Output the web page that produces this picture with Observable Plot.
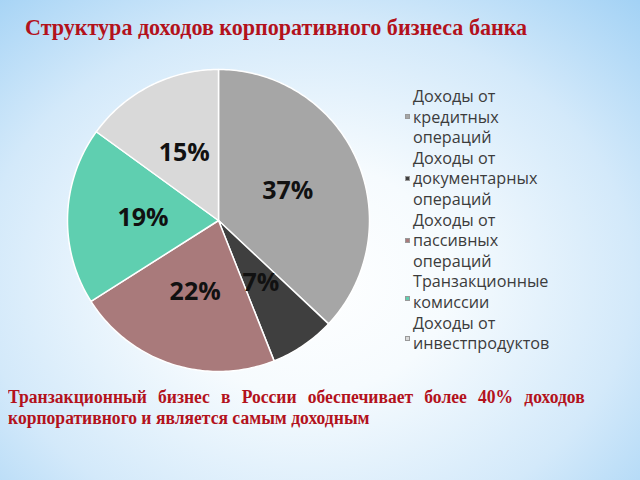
<!DOCTYPE html>
<html>
<head>
<meta charset="utf-8">
<script src="https://cdn.jsdelivr.net/npm/d3@7"></script>
<script src="https://cdn.jsdelivr.net/npm/@observablehq/plot@0.6"></script>
<style>
  html, body { margin: 0; padding: 0; }
  #page {
    position: relative; width: 640px; height: 480px; overflow: hidden;
    background: radial-gradient(ellipse 75% 80% at 48% 58%, #ffffff 0%, #f6fbfe 30%, #d3e9fa 68%, #a3d2f5 100%);
  }
  #title {
    position: absolute; left: 25px; top: 13px; white-space: nowrap;
    font-family: "Liberation Serif", "DejaVu Serif", serif; font-weight: bold;
    font-size: 24px; line-height: 28px; color: #b3121c;
    transform: scaleX(0.92); transform-origin: 0 0;
  }
  #chart { position: absolute; left: 0; top: 60px; }
  #legend {
    position: absolute; left: 413px; top: 86px;
    font-family: "Open Sans", "Noto Sans", sans-serif; font-size: 16.2px;
    line-height: 20.6px; color: #3c3c3c;
  }
  .sw { position: absolute; width: 5px; height: 5px; left: -8px; border: 0.5px solid #999; box-sizing: border-box; }
  #caption {
    position: absolute; left: 8px; top: 387px; width: 607px;
    font-family: "Liberation Serif", "DejaVu Serif", serif; font-weight: bold;
    font-size: 18.5px; line-height: 21px; color: #b3121c;
    text-align: justify; text-align-last: left;
    transform: scaleX(0.95); transform-origin: 0 0;
  }
</style>
</head>
<body>
<div id="page">
  <div id="title">Структура доходов корпоративного бизнеса банка</div>
  <div id="chart"></div>
  <div id="legend"></div>
  <div id="caption">Транзакционный бизнес в России обеспечивает более 40% доходов корпоративного и является самым доходным</div>
</div>
<script>
// Data
const categories = [
  "Доходы от кредитных операций",
  "Доходы от документарных операций",
  "Доходы от пассивных операций",
  "Транзакционные комиссии",
  "Доходы от инвестпродуктов"
];
const shares = [37, 7, 22, 19, 15];
const sliceLabels = ["37%", "7%", "22%", "19%", "15%"];
const legendLines = [
  ["Доходы от", "кредитных", "операций"],
  ["Доходы от", "документарных", "операций"],
  ["Доходы от", "пассивных", "операций"],
  ["Транзакционные", "комиссии"],
  ["Доходы от", "инвестпродуктов"]
];
const colors = ["#a6a6a6", "#3f3f3f", "#a97a7b", "#5fcfb0", "#d9d9d9"];

// Build pie geometry (angles clockwise from 12 o'clock)
const total = d3.sum(shares);
const pts = [];
const lbl = [];
let acc = 0;
categories.forEach((c, i) => {
  const a0 = acc / total * 2 * Math.PI;
  acc += shares[i];
  const a1 = acc / total * 2 * Math.PI;
  pts.push({key: c, x: 0, y: 0});
  const n = Math.max(2, Math.ceil((a1 - a0) / (Math.PI / 180)));
  for (let k = 0; k <= n; k++) {
    const a = a0 + (a1 - a0) * k / n;
    pts.push({key: c, x: Math.sin(a), y: Math.cos(a)});
  }
  const m = (a0 + a1) / 2;
  lbl.push({key: c, text: sliceLabels[i], x: 0.5 * Math.sin(m), y: 0.5 * Math.cos(m)});
});

const plot = Plot.plot({
  width: 640, height: 320,
  margin: 0,
  x: {domain: [-1, 1], range: [67, 369], axis: null},
  y: {domain: [-1, 1], range: [311, 9], axis: null},
  color: {domain: categories, range: colors},
  style: {background: "transparent", overflow: "visible"},
  marks: [
    Plot.line(pts, {x: "x", y: "y", z: "key", fill: "key", stroke: "white", strokeWidth: 1.5, curve: "linear-closed", strokeLinejoin: "round"}),
    Plot.text(lbl, {x: "x", y: "y", text: "text", fill: "#111", fontSize: 25, fontWeight: "bold", fontFamily: "Open Sans, Noto Sans, sans-serif"})
  ]
});
document.getElementById("chart").appendChild(plot);

// Legend
const legend = document.getElementById("legend");
const swatchLine = [1, 1, 1, 0.8, 0.75];
let line = 0;
const lh = 20.6;
legendLines.forEach((lines, i) => {
  lines.forEach(t => {
    const d = document.createElement("div");
    d.textContent = t;
    legend.appendChild(d);
  });
  const sw = document.createElement("span");
  sw.className = "sw";
  sw.style.background = colors[i];
  sw.style.top = ((line + swatchLine[i]) * lh + lh / 2 - 2.5) + "px";
  legend.appendChild(sw);
  line += lines.length;
});
</script>
</body>
</html>
